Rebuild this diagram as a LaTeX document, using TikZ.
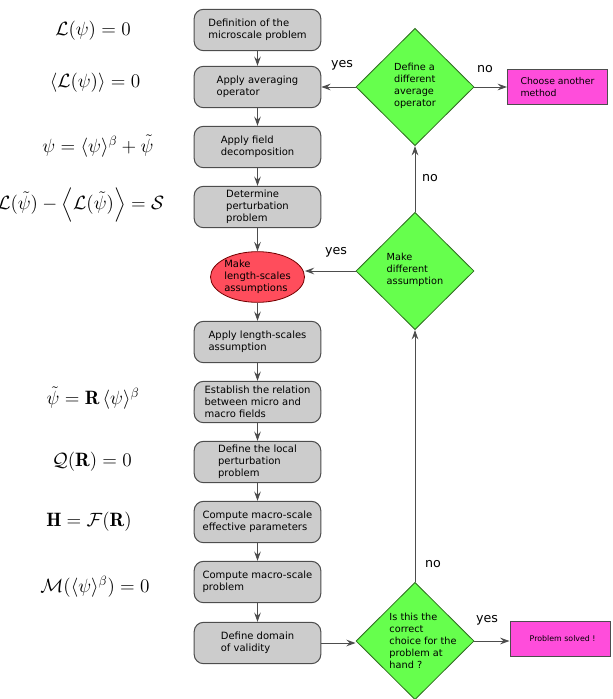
\documentclass[tikz,border=0pt]{standalone}
\usepackage{fontspec}
\usepackage{amsmath}
\newfontfamily\flowfont{DejaVu Sans}
\usetikzlibrary{shapes.geometric,arrows.meta}

\definecolor{boxgray}{HTML}{CCCCCC}
\definecolor{linegray}{HTML}{4D4D4D}
\definecolor{decgreen}{HTML}{66FF4D}
\definecolor{decborder}{HTML}{2E6B1F}
\definecolor{endpink}{HTML}{FF4DDB}
\definecolor{ellred}{HTML}{FF4D5C}

\tikzset{
  stepbox/.style={draw=linegray, fill=boxgray, rounded corners=7pt, line width=0.75pt,
    minimum width=95pt, minimum height=31pt, inner sep=1pt, align=left,
    font=\flowfont\fontsize{7.5}{9}\selectfont},
  decision/.style={diamond, draw=decborder, fill=decgreen, line width=0.6pt,
    minimum width=88.5pt, minimum height=88pt, inner sep=0pt},
  dectext/.style={align=left, font=\flowfont\fontsize{7.3}{9}\selectfont},
  outcome/.style={draw=linegray, fill=endpink, line width=0.75pt,
    minimum width=75pt, minimum height=26.5pt, inner sep=1pt, align=left},
  eqn/.style={font=\fontsize{14.5}{17}\selectfont},
  answer/.style={font=\flowfont\fontsize{9.5}{11}\selectfont},
  flow/.style={draw=linegray, line width=0.75pt,
    -{Stealth[length=7pt, width=5pt, inset=2.5pt]}}
}

\begin{document}
\begin{tikzpicture}[x=0.75pt, y=-0.75pt]
\useasboundingbox (0,0) rectangle (612,699);

%Equations on the left
\node[eqn] (eq1) at (93,31) {$\mathcal{L}(\psi)=0$};
\node[eqn] (eq2) at (95,83) {$\langle\mathcal{L}(\psi)\rangle=0$};
\node[eqn] (eq3) at (98,146) {$\psi=\langle\psi\rangle^{\beta}+\tilde{\psi}$};
\node[eqn, font=\fontsize{13.8}{16}\selectfont, anchor=west, inner sep=0pt] (eq4) at (-3,205)
  {$\mathcal{L}(\tilde{\psi})-\Big\langle\mathcal{L}(\tilde{\psi})\Big\rangle=\mathcal{S}$};
\node[eqn] (eq5) at (93,398) {$\tilde{\psi}=\mathbf{R}\,\langle\psi\rangle^{\beta}$};
\node[eqn] (eq6) at (92,462) {$\mathcal{Q}(\mathbf{R})=0$};
\node[eqn] (eq7) at (89,522) {$\mathbf{H}=\mathcal{F}(\mathbf{R})$};
\node[eqn] (eq8) at (95,587) {$\mathcal{M}(\langle\psi\rangle^{\beta})=0$};

%Main column
\node[stepbox] (micro) at (257.5,30) {Definition of the\\microscale problem};
\node[stepbox] (avg) at (257.5,87) {Apply averaging\\operator};
\node[stepbox] (decomp) at (257.5,147) {Apply field\\decomposition};
\node[stepbox] (perturb) at (257.5,207) {Determine\\perturbation\\problem};
\node[ellipse, draw=red!45!black, fill=ellred, line width=0.6pt,
  minimum width=70pt, minimum height=38pt, inner sep=0pt, align=left,
  font=\flowfont\fontsize{7.5}{9}\selectfont] (assume) at (257.5,277)
  {Make\\length-scales\\assumptions};
\node[stepbox] (applyls) at (257.5,342) {Apply length-scales\\assumption};
\node[stepbox] (relation) at (257.5,402) {Establish the relation\\between micro and\\macro fields};
\node[stepbox] (local) at (257.5,462) {Define the local\\perturbation\\problem};
\node[stepbox] (effpar) at (257.5,522) {Compute macro-scale\\effective parameters};
\node[stepbox] (macro) at (257.5,582) {Compute macro-scale\\problem};
\node[stepbox] (domain) at (257.5,643) {Define domain\\of validity};

%Decisions
\node[decision] (newavg) at (415,87) {};
\node[dectext] (newavg-txt) at (415,86) {Define a\\different\\average\\operator};
\node[decision] (newls) at (415,271) {};
\node[dectext] (newls-txt) at (415,270) {Make\\different\\assumption};
\node[decision] (check) at (415,641) {};
\node[dectext] (check-txt) at (423,641) {Is this the\\correct\\choice for the\\problem at\\hand ?};

%End points
\node[outcome, font=\flowfont\fontsize{7}{9}\selectfont] (other) at (557.5,87) {Choose another\\method};
\node[outcome, font=\flowfont\fontsize{5.9}{8}\selectfont] (solved) at (560,639) {\hspace*{4pt}Problem solved !};

%Main flow
\draw[flow] (micro) -- (avg);
\draw[flow] (avg) -- (decomp);
\draw[flow] (decomp) -- (perturb);
\draw[flow] (perturb) -- (assume);
\draw[flow] (assume) -- (applyls);
\draw[flow] (applyls) -- (relation);
\draw[flow] (relation) -- (local);
\draw[flow] (local) -- (effpar);
\draw[flow] (effpar) -- (macro);
\draw[flow] (macro) -- (domain);
\draw[flow] (domain.east) -- (domain.east -| check.west);

%Decision branches
\draw[flow] (check.north) -- (newls.south);
\draw[flow] (newls.north) -- (newavg.south);
\draw[flow] (newls.west) -- (newls.west -| assume.east);
\draw[flow] (newavg.west) -- (avg.east);
\draw[flow] (newavg.east) -- (other.west);
\draw[flow] (check.east) -- (check.east -| solved.west);

%Branch labels
\node[answer] (yes1) at (342,65) {yes};
\node[answer] (no1) at (485,69) {no};
\node[answer] (no2) at (430,178) {no};
\node[answer] (yes2) at (336,252) {yes};
\node[answer] (no3) at (433,564) {no};
\node[answer] (yes3) at (487,620) {yes};

\end{tikzpicture}
\end{document}
